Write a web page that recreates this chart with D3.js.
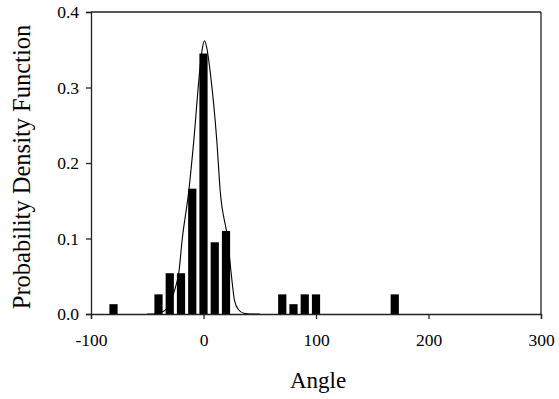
<!DOCTYPE html>
<html>
<head>
<meta charset="utf-8">
<script src="https://cdn.jsdelivr.net/npm/d3@7"></script>
<style>
  body { margin: 0; background: #fff; }
  .axis path, .axis line { stroke: #222; stroke-width: 1.3; }
</style>
</head>
<body>
<div id="chart"></div>
<script>
// histogram bins (bin centre angle, density)
var binAngles = [-80, -40, -30, -20, -10, 0, 10, 20, 70, 80, 90, 100, 170];
var binDensity = [0.013, 0.026, 0.054, 0.054, 0.166, 0.345, 0.095, 0.110, 0.026, 0.013, 0.026, 0.026, 0.026];

// fitted curve, points
var curveAngles = [-50, -45, -35, -28.7, -25, -22, -19, -13, -8.6, -3.5, -1, 1, 3, 6, 11.8, 14.8, 21.6, 24.6, 27.5, 31, 36, 42, 50];
var curveDensity = [0, 0, 0.004, 0.0185, 0.035, 0.054, 0.098, 0.164, 0.23, 0.32, 0.352, 0.362, 0.352, 0.32, 0.23, 0.164, 0.098, 0.054, 0.0185, 0.006, 0.001, 0, 0];

var xTicks = [-100, 0, 100, 200, 300];
var yTicks = [0, 0.1, 0.2, 0.3, 0.4];

var serif = "Liberation Serif, Tinos, DejaVu Serif, serif";

var margin = {top: 12, right: 18, bottom: 85, left: 91},
    W = 559, H = 399,
    width = W - margin.left - margin.right,
    height = H - margin.top - margin.bottom;

var binWidth = 7.3;

var svg = d3.select("#chart")
  .append("svg")
  .attr("width", W)
  .attr("height", H)
  .append("g")
    .attr("transform", "translate(" + margin.left + "," + margin.top + ")");

var x = d3.scaleLinear().domain([-100, 300]).range([0, width]);
var y = d3.scaleLinear().domain([0, 0.4]).range([height, 0]);

// frame (top + right)
svg.append("line")
  .attr("x1", 0).attr("x2", width).attr("y1", 0).attr("y2", 0)
  .attr("stroke", "#222").attr("stroke-width", 1.3);
svg.append("line")
  .attr("x1", width).attr("x2", width).attr("y1", 0).attr("y2", height)
  .attr("stroke", "#222").attr("stroke-width", 1.3);

// bars
svg.selectAll(".bar")
  .data(binAngles)
  .enter().append("rect")
    .attr("class", "bar")
    .attr("x", function(d){ return x(d - binWidth / 2); })
    .attr("width", function(d){ return x(d + binWidth / 2) - x(d - binWidth / 2); })
    .attr("y", function(d, i){ return y(binDensity[i]); })
    .attr("height", function(d, i){ return height - y(binDensity[i]); })
    .attr("fill", "#000");

// curve
var line = d3.line()
  .x(function(d){ return x(d[0]); })
  .y(function(d){ return y(d[1]); })
  .curve(d3.curveMonotoneX);

svg.append("path")
  .datum(d3.zip(curveAngles, curveDensity))
  .attr("d", line)
  .attr("fill", "none")
  .attr("stroke", "#000")
  .attr("stroke-width", 1.1);

// axes
var xAxis = svg.append("g")
  .attr("class", "axis")
  .attr("transform", "translate(0," + height + ")")
  .call(d3.axisBottom(x).tickValues(xTicks).tickFormat(function(d){ return String(d); }).tickSize(5).tickPadding(15));
xAxis.attr("font-family", serif).attr("font-size", 17.5);
xAxis.selectAll("text").attr("fill", "#000");

var yAxis = svg.append("g")
  .attr("class", "axis")
  .call(d3.axisLeft(y).tickValues(yTicks).tickFormat(d3.format(".1f")).tickSize(5).tickPadding(7));
yAxis.attr("font-family", serif).attr("font-size", 17.5);
yAxis.selectAll("text").attr("fill", "#000");

// axis titles
svg.append("text")
  .attr("x", width / 2 + 2)
  .attr("y", height + 74)
  .attr("text-anchor", "middle")
  .attr("font-family", serif)
  .attr("font-size", 23)
  .text("Angle");

svg.append("text")
  .attr("transform", "rotate(-90)")
  .attr("x", -height / 2 - 4)
  .attr("y", -61)
  .attr("text-anchor", "middle")
  .attr("font-family", serif)
  .attr("font-size", 24.5)
  .text("Probability Density Function");
</script>
</body>
</html>
